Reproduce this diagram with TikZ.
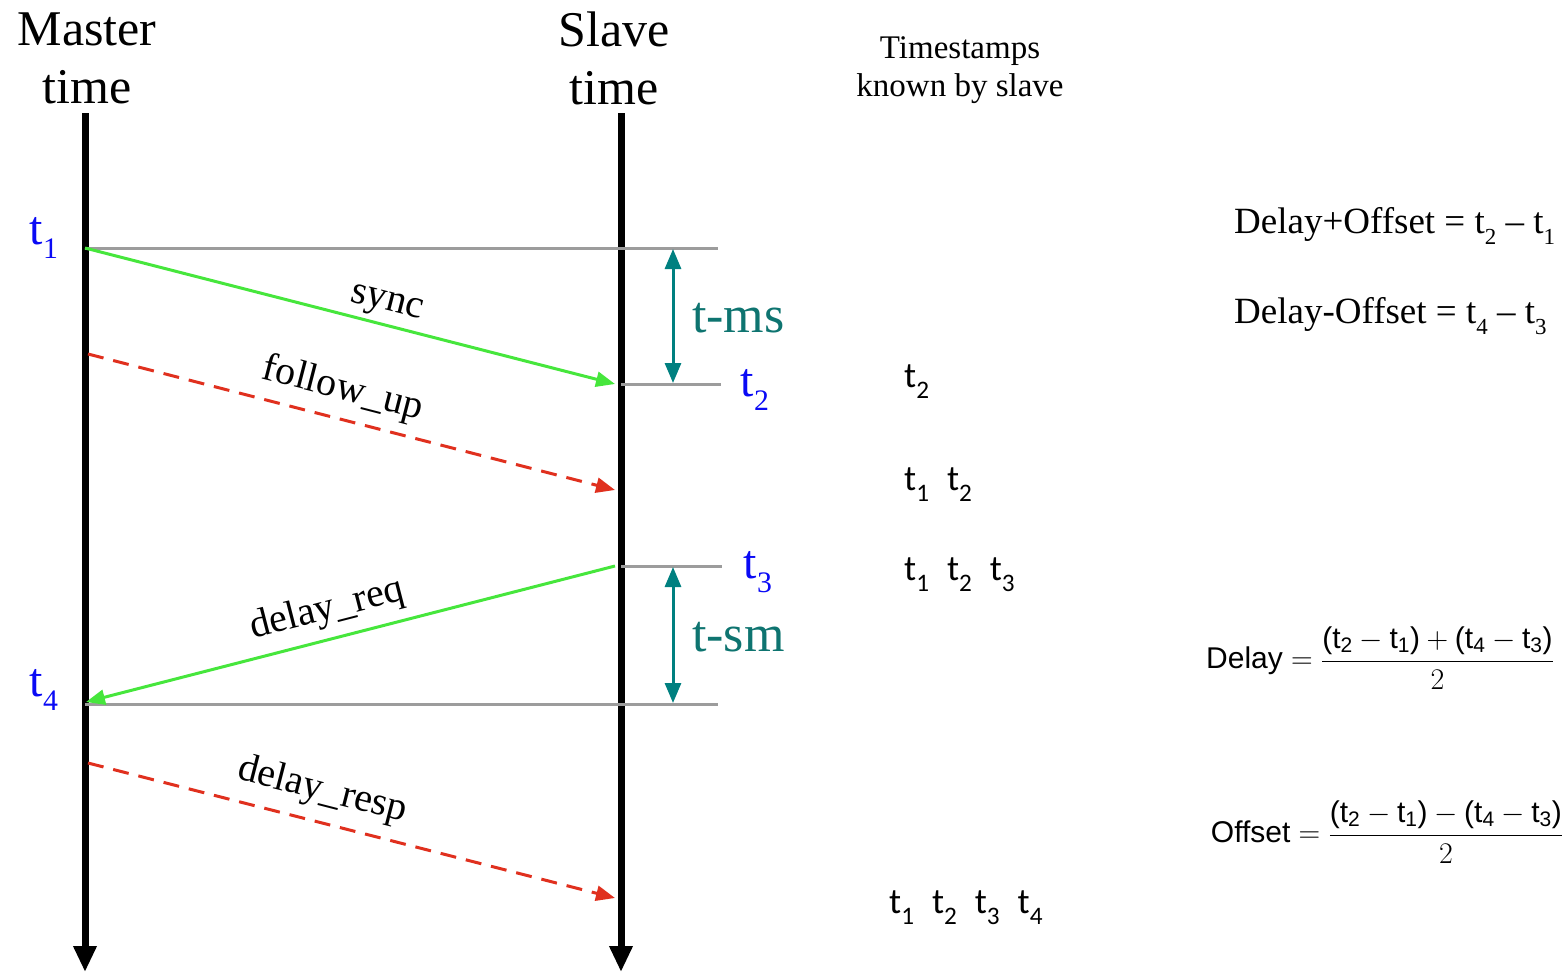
\RequirePackage{fix-cm}
\documentclass[tikz,border=0pt]{standalone}
\usepackage{amsmath}
\usepackage{fontspec}
\setmainfont{Liberation Serif}
\newfontfamily\calfont{Carlito}
\newfontfamily\arialfont{Liberation Sans}
\usetikzlibrary{arrows.meta}

\definecolor{msggreen}{HTML}{46E63C}
\definecolor{msgred}{HTML}{E0301E}
\definecolor{spanteal}{HTML}{008080}
\definecolor{spantext}{HTML}{0E7470}
\definecolor{stampblue}{HTML}{0A0AF5}
\definecolor{tickgray}{HTML}{9C9C9C}

\newcommand{\tlo}[1]{t\raisebox{-0.28em}{\fontsize{0.62em}{1em}\selectfont #1}}
\newcommand{\tkn}[1]{t\raisebox{-0.3em}{\fontsize{0.7em}{1em}\selectfont #1}}
\newcommand{\kgap}{\hspace{0.5em}}
\newcommand{\ft}[1]{\text{t}_{\text{#1}}}

\begin{document}
\begin{tikzpicture}[x=1pt, y=-1pt,
    axis/.style={line width=7pt, -{Triangle[width=22pt,length=26pt]}},
    tick/.style={draw=tickgray, line width=3pt},
    msg/.style={draw=msggreen, line width=3pt, -{Triangle[width=15pt,length=19pt]}},
    info/.style={draw=msgred, line width=3pt, dash pattern=on 16pt off 10pt, -{Triangle[width=15pt,length=19pt]}},
    span/.style={draw=spanteal, line width=3pt, {Triangle[width=16pt,length=20pt]}-{Triangle[width=16pt,length=20pt]}},
    head/.style={font=\fontsize{50}{58}\selectfont, align=center},
    stamp/.style={text=stampblue, font=\fontsize{48}{50}\selectfont, inner sep=0pt},
    spanlabel/.style={text=spantext, font=\fontsize{52}{56}\selectfont, anchor=west, inner sep=0pt},
    msglabel/.style={font=\fontsize{40}{44}\selectfont, sloped},
    known/.style={font=\calfont\fontsize{36}{40}\selectfont, anchor=west, inner sep=0pt},
    eqn/.style={font=\fontsize{37}{40}\selectfont, anchor=west, inner sep=0pt},
    frac/.style={font=\arialfont\fontsize{30}{36}\selectfont, inner sep=0pt}
]
\useasboundingbox (0,0) rectangle (1567,972);

% Time axes
\node[head] (mhead) at (87,58) {Master\\time};
\node[head] (shead) at (614,58) {Slave\\time};
\coordinate (mtop) at (85,113);
\coordinate (mbot) at (85,972);
\coordinate (stop) at (621,113);
\coordinate (sbot) at (621,972);
\draw[axis] (mtop) -- (mbot);
\draw[axis] (stop) -- (sbot);

% Timestamps on the axes
\coordinate (t1) at (85,248);
\coordinate (t2) at (621,384);
\coordinate (t3) at (621,566);
\coordinate (t4) at (85,704);
\coordinate (t1r) at (718,248);
\coordinate (t2r) at (721,384);
\coordinate (t3r) at (722,566);
\coordinate (t4r) at (718,704);
\draw[tick] (t1) -- (t1r);
\draw[tick] (t2) -- (t2r);
\draw[tick] (t3) -- (t3r);
\draw[tick] (t4) -- (t4r);

\node[stamp] (l1) at (44,238) {\tlo{1}};
\node[stamp] (l2) at (755,390) {\tlo{2}};
\node[stamp] (l3) at (758,572) {\tlo{3}};
\node[stamp] (l4) at (44,690) {\tlo{4}};

% Messages
\coordinate (syncend) at (615,384);
\coordinate (fustart) at (88,354);
\coordinate (fuend) at (615,490);
\coordinate (reqstart) at (615,566);
\coordinate (reqend) at (86,702);
\coordinate (respstart) at (88,763);
\coordinate (respend) at (615,898);
\draw[msg] (t1) -- node[msglabel, above=1pt, pos=0.56] {sync} (syncend);
\draw[info] (fustart) -- node[msglabel, above=6pt, pos=0.47] {follow\_up} (fuend);
\draw[msg] (reqstart) -- node[msglabel, above=6pt, pos=0.53] {delay\_req} (reqend);
\draw[info] (respstart) -- node[msglabel, above=8pt, pos=0.43] {delay\_resp} (respend);

% Transit times
\coordinate (msa) at (673,249);
\coordinate (msb) at (673,383);
\coordinate (sma) at (673,567);
\coordinate (smb) at (673,703);
\draw[span] (msa) -- (msb);
\draw[span] (sma) -- (smb);
\node[spanlabel] (tms) at (692,318) {t-ms};
\node[spanlabel] (tsm) at (692,637) {t-sm};

% Timestamps known by slave
\node[font=\fontsize{33}{38}\selectfont, align=center] (khead) at (960,70) {Timestamps\\known by slave};
\node[known] (k1) at (904,382) {\tkn{2}};
\node[known] (k2) at (904,485) {\tkn{1}\kgap\tkn{2}};
\node[known] (k3) at (904,575) {\tkn{1}\kgap\tkn{2}\kgap\tkn{3}};
\node[known] (k4) at (889,908) {\tkn{1}\kgap\tkn{2}\kgap\tkn{3}\kgap\tkn{4}};

% Equations
\node[eqn] (sum) at (1234,226) {Delay+Offset = \tlo{2} -- \tlo{1}};
\node[eqn] (dif) at (1234,316) {Delay-Offset = \tlo{4} -- \tlo{3}};
\node[frac] (delay) at (1380,658) {Delay $=\dfrac{\text{(}\ft{2}-\ft{1}\text{)}+\text{(}\ft{4}-\ft{3}\text{)}}{2}$};
\node[frac] (offset) at (1387,832) {Offset $=\dfrac{\text{(}\ft{2}-\ft{1}\text{)}-\text{(}\ft{4}-\ft{3}\text{)}}{2}$};

\end{tikzpicture}
\end{document}
